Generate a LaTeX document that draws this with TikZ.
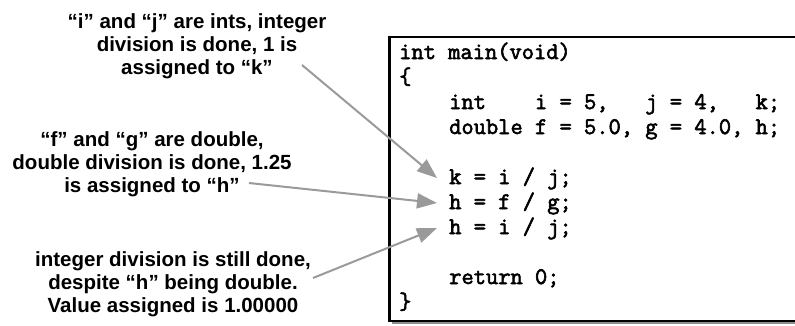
\documentclass[tikz,border=0pt]{standalone}
\usepackage{fontspec}
\setmainfont{Liberation Sans}
\newfontfamily\codefont{Latin Modern Mono}[FakeBold=2.5]
\usetikzlibrary{arrows.meta,shadows}
\definecolor{arrowgray}{HTML}{9A9A9A}
\definecolor{shadowgray}{HTML}{8E8E8E}
\tikzset{
  note/.style={font=\bfseries\fontsize{20.5}{23}\selectfont, align=center, inner sep=0pt},
  codeline/.style={font=\codefont\fontsize{23.8}{25}\selectfont, anchor=base west,
                   inner xsep=12pt, inner ysep=0pt, text height=15pt, text depth=3pt},
  codebox/.style={draw=black, line width=2.5pt, fill=white, anchor=north west,
                  drop shadow={shadow xshift=3pt, shadow yshift=-3.5pt, fill=shadowgray, opacity=1}},
  pointer/.style={draw=arrowgray, line width=2pt, -{Triangle[length=20pt,width=15pt]}},
}
\begin{document}
\begin{tikzpicture}[x=1pt,y=-1pt]
  \useasboundingbox (0,0) rectangle (795,325);
  \clip (0,0) rectangle (795,325);

  % frame around the listing
  \node[codebox, minimum width=422pt, minimum height=284pt] (box) at (388,35.5) {};

  % listing, one node per line (baselines 25pt apart)
  \node[codeline] (l1)  at (387,59)  {int~main(void)};
  \node[codeline] (l2)  at (387,84)  {\{};
  \node[codeline] (l3)  at (437,109) {int~~~~i~=~5,~~~j~=~4,~~~k;};
  \node[codeline] (l4)  at (437,134) {double~f~=~5.0,~g~=~4.0,~h;};
  \node[codeline] (l6)  at (437,184) {k~=~i~/~j;};
  \node[codeline] (l7)  at (437,209) {h~=~f~/~g;};
  \node[codeline] (l8)  at (437,234) {h~=~i~/~j;};
  \node[codeline] (l10) at (437,284) {return~0;};
  \node[codeline] (l11) at (387,309) {\}};

  % explanations
  \node[note] (n1) at (197,46)  {“i” and “j” are ints, integer\\division is done, 1 is\\assigned to “k”};
  \node[note] (n2) at (152,164) {“f” and “g” are double,\\double division is done, 1.25\\is assigned to “h”};
  \node[note] (n3) at (173,284) {integer division is still done,\\despite “h” being double.\\Value assigned is 1.00000};

  % arrow tails
  \coordinate (s1) at (302,65);
  \coordinate (s2) at (249,183);
  \coordinate (s3) at (313,278);

  \draw[pointer] (s1) -- (l6.west);
  \draw[pointer] (s2) -- (l7.west);
  \draw[pointer] (s3) -- (l8.west);
\end{tikzpicture}
\end{document}
